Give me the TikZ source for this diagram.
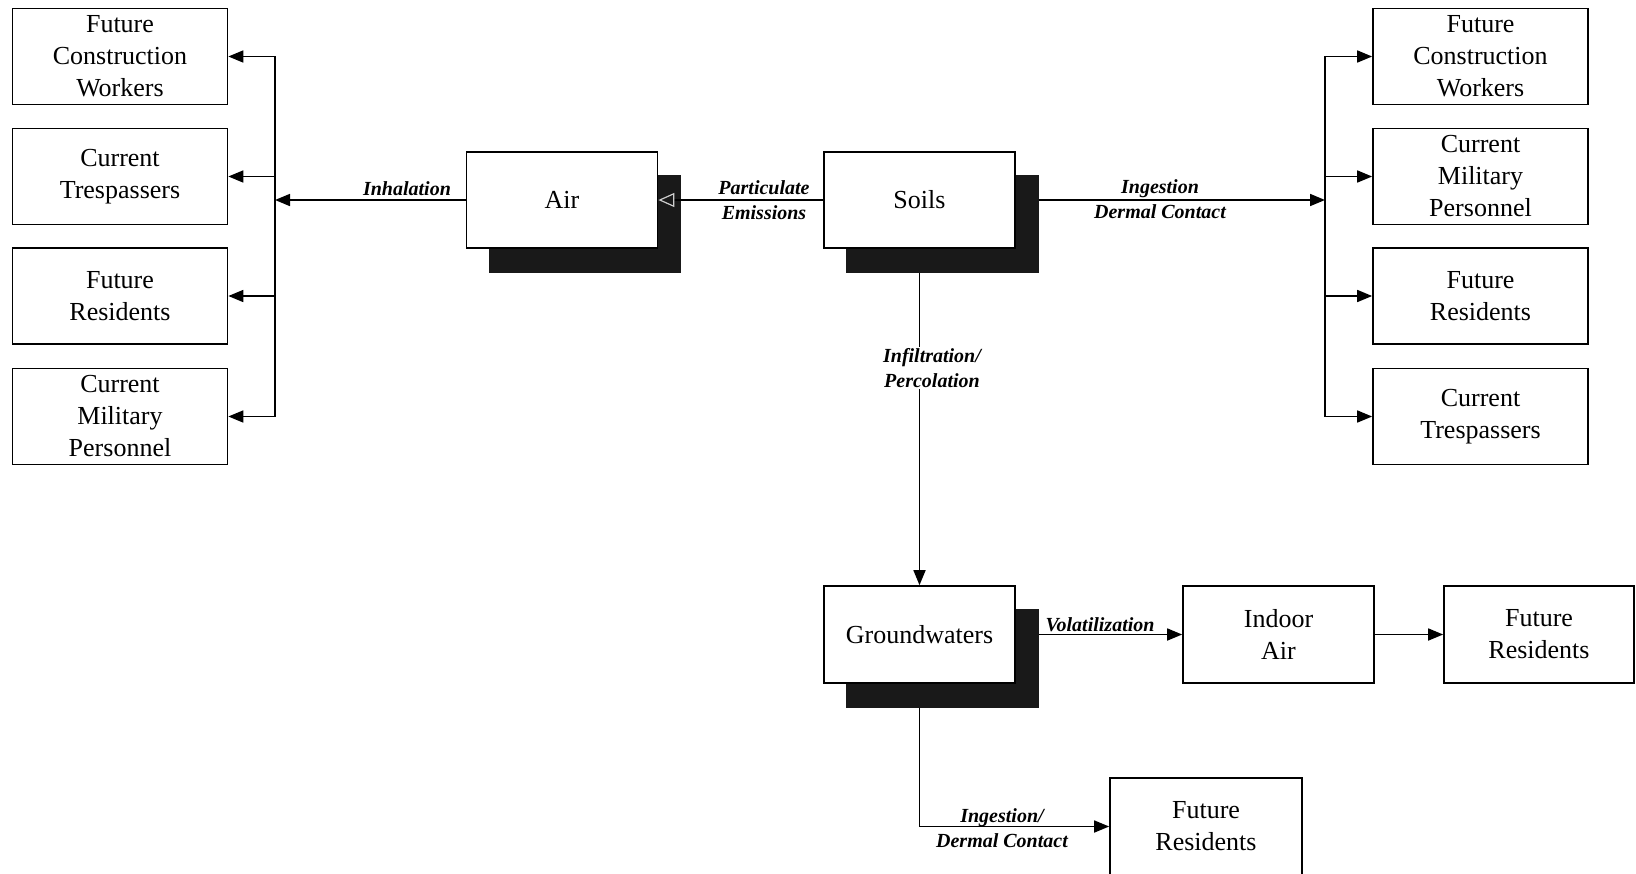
\documentclass[tikz,border=0pt]{standalone}
\usepackage{fontspec}
\setmainfont{Liberation Serif}
\usetikzlibrary{arrows.meta,backgrounds}
\begin{document}
\begin{tikzpicture}[x=1pt,y=-1pt,
  box/.style={draw, line width=1.7pt, fill=white, align=center, inner sep=0pt,
    font=\fontsize{26}{32}\selectfont},
  side/.style={box, minimum width=215pt, minimum height=96pt},
  mid/.style={box, minimum width=191pt, minimum height=96pt},
  lbl/.style={font=\fontsize{20}{25}\selectfont\bfseries\itshape, align=center, inner sep=1pt},
  arr/.style={line width=1.7pt, -{Triangle[length=15pt,width=12pt]}},
  shadowc/.style={fill=black!90}
]
\useasboundingbox (0,0) rectangle (1636,873);

% left receptors
\node[side] (lfcw) at (120,56.5) {Future\\Construction\\Workers};
\node[side] (lct)  at (120,176.5) {Current\\Trespassers};
\node[side] (lfr)  at (120,296) {Future\\Residents};
\node[side] (lcmp) at (120,416.5) {Current\\Military\\Personnel};

% right receptors
\node[side] (rfcw) at (1480.5,56.5) {Future\\Construction\\Workers};
\node[side] (rcmp) at (1480.5,176.5) {Current\\Military\\Personnel};
\node[side] (rfr)  at (1480.5,296) {Future\\Residents};
\node[side] (rct)  at (1480.5,416.5) {Current\\Trespassers};

% media
\node[mid] (air)   at (562,200) {Air};
\node[mid] (soils) at (919.5,200) {Soils};
\node[mid, minimum height=97pt] (gw) at (919.5,634.5) {Groundwaters};
\node[mid, minimum height=97pt] (indoor) at (1278.5,634.5) {Indoor\\Air};
\node[mid, minimum width=190pt, minimum height=97pt] (frr) at (1539,634.5) {Future\\Residents};
\node[mid, minimum width=192pt, minimum height=97pt] (frb) at (1206,826.5) {Future\\Residents};

% shadows
\begin{pgfonlayer}{background}
  \foreach \n in {air,soils,gw}{
    \fill[shadowc] ([shift={(23,24)}]\n.south west) rectangle ([shift={(23,24)}]\n.north east);
  }
\end{pgfonlayer}

\coordinate (lbus) at (275,200);
\coordinate (rbus) at (1325,200);
\coordinate (soilsE) at ([xshift=23pt]soils.east);
\coordinate (soilsS) at ([yshift=-24pt]soils.south);
\coordinate (gwE) at ([xshift=23pt]gw.east);
\coordinate (gwS) at ([yshift=-24pt]gw.south);

% left branch
\draw[arr] (air.west) -- (lbus);
\draw[arr] (lbus) |- (lfcw.east);
\draw[arr] (lbus) |- (lct.east);
\draw[arr] (lbus) |- (lfr.east);
\draw[arr] (lbus) |- (lcmp.east);
\node[lbl, anchor=base] at (407,195) {Inhalation};

% soils to air
\draw[line width=1.7pt, -{Triangle[open,length=16pt,width=14pt,color=white!80!black,line width=1.2pt]}] (soils.west) -- (air.east);
\node[lbl] at (764,200) {Particulate\\Emissions};

% right branch
\draw[arr] (soilsE) -- (rbus);
\draw[arr] (rbus) |- (rfcw.west);
\draw[arr] (rbus) |- (rcmp.west);
\draw[arr] (rbus) |- (rfr.west);
\draw[arr] (rbus) |- (rct.west);
\node[lbl] at (1160,199) {Ingestion\\Dermal Contact};

% soils to groundwaters
\draw[arr] (soilsS) -- (gw.north);
\node[lbl, fill=white] at (932,368) {Infiltration/\\Percolation};

% groundwaters to indoor air
\draw[arr] (gwE) -- (indoor.west);
\node[lbl, anchor=base] at (1100,631) {Volatilization};
\draw[arr] (indoor.east) -- (frr.west);

% groundwaters to future residents
\draw[arr] (gwS) |- (frb.west);
\node[lbl] at (1002,828) {Ingestion/\\Dermal Contact};
\end{tikzpicture}
\end{document}
